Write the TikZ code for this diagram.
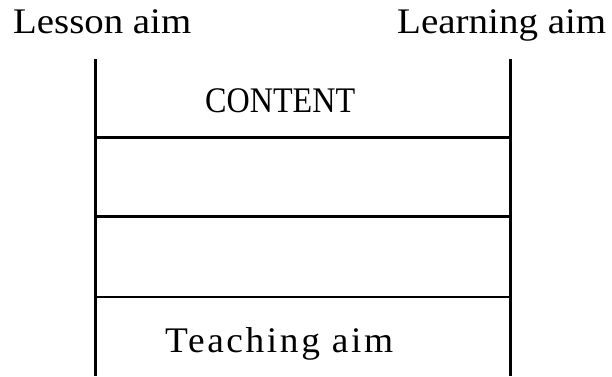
\documentclass[tikz,border=0pt]{standalone}
\usepackage{fontspec}
\setmainfont{Liberation Serif}
\usepackage{graphicx}
\begin{document}
\begin{tikzpicture}[x=1bp,y=1bp,
  rule/.style={line width=2.3bp,black},
  lbl/.style={inner sep=0pt,anchor=base west,font=\fontsize{36bp}{40bp}\selectfont}]
\useasboundingbox (0,0) rectangle (612,376);
% frame coordinates
\coordinate (lt) at (95.5,317);
\coordinate (lb) at (95.5,0);
\coordinate (rt) at (510.5,317);
\coordinate (rb) at (510.5,0);
\coordinate (h1l) at (95.5,238.5);
\coordinate (h1r) at (510.5,238.5);
\coordinate (h2l) at (95.5,159.5);
\coordinate (h2r) at (510.5,159.5);
\coordinate (h3l) at (95.5,79);
\coordinate (h3r) at (510.5,79);
\draw[rule] (lt) -- (lb);
\draw[rule] (rt) -- (rb);
\draw[rule] (h1l) -- (h1r);
\draw[rule] (h2l) -- (h2r);
\draw[rule] (h3l) -- (h3r);
% labels
\node[lbl] (lesson) at (13,343) {\resizebox{178bp}{\height}{Lesson aim}};
\node[lbl] (learning) at (397,343) {\resizebox{209bp}{\height}{Learning aim}};
\node[lbl] (content) at (205,264) {\resizebox{150bp}{\height}{CONTENT}};
\node[lbl] (teaching) at (165,24) {\resizebox{228bp}{\height}{\addfontfeatures{LetterSpace=7}Teaching aim}};
\end{tikzpicture}
\end{document}
